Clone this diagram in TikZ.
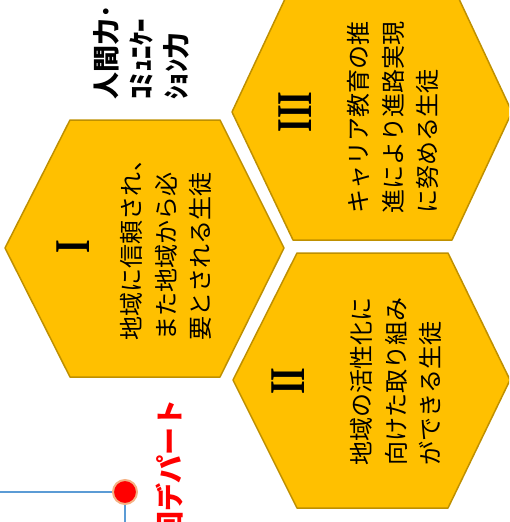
\documentclass[tikz,border=0pt]{standalone}
\usepackage{fontspec}
\usepackage{tikz}
\usepackage{xcolor}
\setmainfont{Liberation Serif}
\newfontfamily\jpfont{Noto Sans CJK JP}
\definecolor{hexgold}{RGB}{255,192,0}
\definecolor{hexedge}{RGB}{191,144,0}
\definecolor{lineblue}{RGB}{91,155,213}
\definecolor{dotring}{RGB}{244,177,131}

\begin{document}
\begin{tikzpicture}[x=1pt,y=-1pt]
\tikzstyle{every node}=[inner sep=0pt]
\tikzstyle{hexcell}=[fill=hexgold,draw=hexedge,line width=1.5pt,line join=round]
\tikzstyle{numeral}=[rotate=90,font=\bfseries\fontsize{50}{50}\selectfont]
\tikzstyle{hextext}=[rotate=90,align=left,font=\jpfont\fontsize{24}{34.5}\selectfont]
\tikzstyle{reddot}=[circle,fill=red,draw=dotring,line width=2pt,minimum size=24pt]
\tikzstyle{blueline}=[draw=lineblue,line width=2.5pt]
\useasboundingbox (0,0) rectangle (509,522);
\clip (0,0) rectangle (509,522);
% hexagons
\draw[hexcell] (5,248) -- (70,120) -- (220,120) -- (284,248) -- (220,377) -- (70,377) -- cycle;
\draw[hexcell] (232,112) -- (292,-16) -- (452,-16) -- (512,112) -- (452,240) -- (293,240) -- cycle;
\draw[hexcell] (233,380) -- (297,253) -- (448,253) -- (510,380) -- (448,508) -- (297,508) -- cycle;
% numerals
\node[numeral] (numI) at (73,247) {\scalebox{.7}[1]{I}};
\node[numeral] (numII) at (288,381) {\scalebox{.7}[1]{II}};
\node[numeral] (numIII) at (295,112) {\scalebox{.7}[1]{III}};
% texts
\node[hextext] (textI) at (166,244) {地域に信頼され、\\また地域から必\\要とされる生徒};
\node[hextext] (textII) at (396,381) {地域の活性化に\\向けた取り組み\\ができる生徒};
\node[hextext] (textIII) at (393,117) {キャリア教育の推\\進により進路実現\\に努める生徒};
\node[rotate=90,anchor=west,align=left,font=\jpfont\bfseries\fontsize{27}{35}\selectfont] (skills) at (141,100) {人間力･\\ｺﾐｭﾆｹｰ\\ｼｮﾝ力};
\node[rotate=90,anchor=east,text=red,font=\jpfont\bfseries\fontsize{28}{28}\selectfont] (dept) at (170,399) {回デパート};
% marker
\node[reddot] (dot) at (125,492) {};
\coordinate (lineW) at (0,492);
\coordinate (lineS) at (125,522);
\draw[blueline] (dot) -- (lineW);
\draw[blueline] (dot) -- (lineS);
\end{tikzpicture}
\end{document}
